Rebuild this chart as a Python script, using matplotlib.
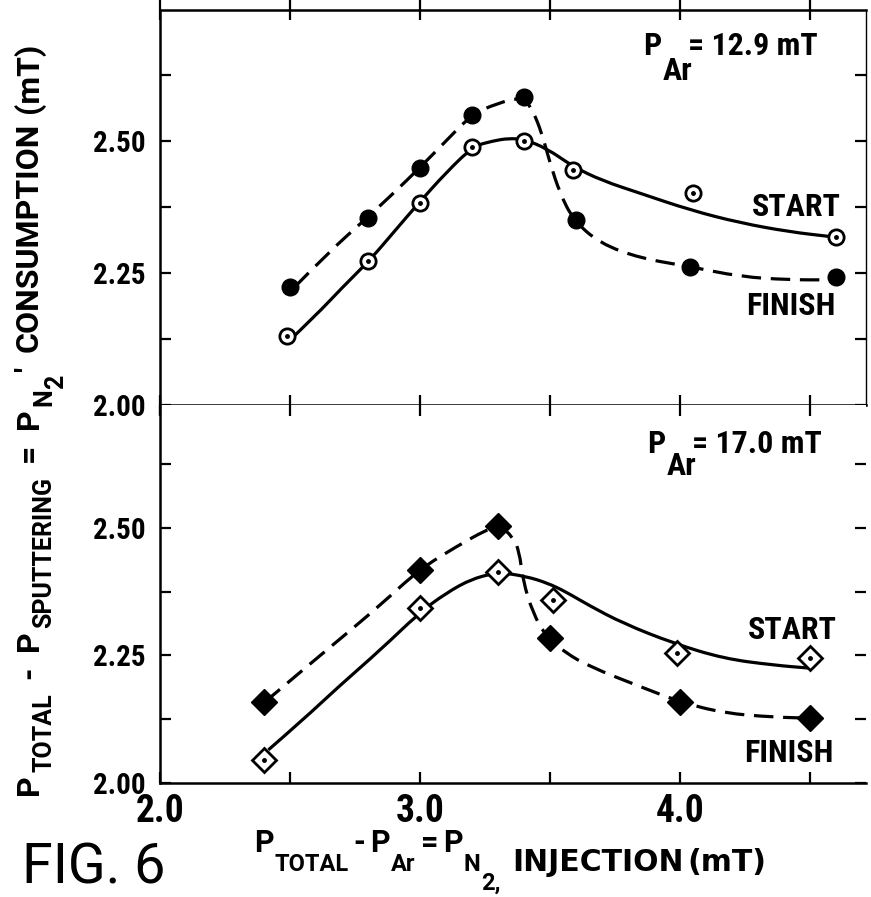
import numpy as np
import matplotlib
matplotlib.use("Agg")
import matplotlib.pyplot as plt
from matplotlib import font_manager
from matplotlib.path import Path
from matplotlib.patches import PathPatch
from matplotlib.transforms import IdentityTransform

# ---- data ----
# top panel, P_Ar = 12.9 mT
x_top_start = [2.49, 2.80, 3.00, 3.20, 3.40, 3.59, 4.05, 4.60]
y_top_start = [2.130, 2.272, 2.382, 2.489, 2.500, 2.445, 2.402, 2.319]
x_top_finish = [2.50, 2.80, 3.00, 3.20, 3.40, 3.60, 4.04, 4.60]
y_top_finish = [2.224, 2.354, 2.448, 2.550, 2.584, 2.350, 2.262, 2.243]

# hand drawn fit curves
cx_top_start = [2.487, 2.60, 2.70, 2.808, 2.90, 2.994, 3.10, 3.205, 3.28, 3.34, 3.40, 3.487,
                3.59, 3.70, 3.846, 4.04, 4.23, 4.42, 4.577]
cy_top_start = [2.117, 2.170, 2.222, 2.275, 2.328, 2.382, 2.440, 2.490, 2.500, 2.505, 2.503, 2.486,
                2.451, 2.425, 2.401, 2.369, 2.345, 2.328, 2.319]
cx_top_finish = [2.519, 2.65, 2.795, 2.90, 2.996, 3.10, 3.199, 3.295, 3.397, 3.436, 3.468, 3.50,
                 3.538, 3.59, 3.692, 3.846, 4.04, 4.23, 4.42, 4.577]
cy_top_finish = [2.224, 2.290, 2.354, 2.402, 2.448, 2.500, 2.550, 2.571, 2.584, 2.555, 2.515, 2.458,
                 2.401, 2.350, 2.306, 2.278, 2.262, 2.243, 2.237, 2.237]

# bottom panel, P_Ar = 17.0 mT
x_bot_start = [2.40, 3.00, 3.30, 3.51, 3.99, 4.50]
y_bot_start = [2.046, 2.343, 2.413, 2.359, 2.254, 2.245]
x_bot_finish = [2.40, 3.00, 3.30, 3.50, 4.00, 4.50]
y_bot_finish = [2.159, 2.418, 2.503, 2.284, 2.159, 2.127]

cx_bot_start = [2.417, 2.55, 2.687, 2.85, 2.996, 3.099, 3.202, 3.305, 3.408, 3.49, 3.56, 3.65,
                3.781, 3.974, 4.167, 4.36, 4.502]
cy_bot_start = [2.065, 2.124, 2.189, 2.262, 2.333, 2.372, 2.401, 2.413, 2.405, 2.392, 2.375, 2.348,
                2.313, 2.274, 2.244, 2.231, 2.225]
cx_bot_finish = [2.404, 2.55, 2.687, 2.85, 2.996, 3.138, 3.254, 3.305, 3.356, 3.382, 3.395, 3.434,
                 3.485, 3.56, 3.653, 3.846, 4.00, 4.167, 4.36, 4.515]
cy_bot_finish = [2.159, 2.222, 2.280, 2.350, 2.418, 2.463, 2.496, 2.505, 2.483, 2.454, 2.398, 2.333,
                 2.287, 2.255, 2.228, 2.189, 2.159, 2.137, 2.129, 2.127]

yticks = [2.0, 2.125, 2.25, 2.375, 2.5, 2.625]
ytick_labels = ["2.00", "", "2.25", "", "2.50", ""]
xticks = [2.0, 2.5, 3.0, 3.5, 4.0, 4.5]
xtick_labels = ["2.0", "", "3.0", "", "4.0", ""]

names = {f.name for f in font_manager.fontManager.ttflist}
FONT = "Roboto Condensed" if "Roboto Condensed" in names else "DejaVu Sans"
WIDE = "Roboto" if "Roboto" in names else "DejaVu Sans"
WEIGHT = "bold"

plt.rcParams["font.family"] = [FONT, "DejaVu Sans"]
plt.rcParams["lines.scale_dashes"] = False

fig = plt.figure(figsize=(8.71, 8.97), dpi=100)
W, H = 871.0, 897.0
left, right = 160 / W, 866 / W
ax1 = fig.add_axes([left, 1 - 405 / H, right - left, (405 - 10) / H])
ax2 = fig.add_axes([left, 1 - 783 / H, right - left, (783 - 405) / H])
renderer = fig.canvas.get_renderer()

DASH = (0, (14, 7))


def curve(ax, xs, ys, ls):
    # quadratic b-spline through the read points, drawn as a bezier path
    pts = list(zip(xs, ys))
    verts = [pts[0]]
    codes = [Path.MOVETO]
    for i in range(1, len(pts) - 1):
        mid = ((pts[i][0] + pts[i + 1][0]) / 2, (pts[i][1] + pts[i + 1][1]) / 2)
        verts += [pts[i], mid]
        codes += [Path.CURVE3, Path.CURVE3]
    verts.append(pts[-1])
    codes.append(Path.LINETO)
    ax.add_patch(PathPatch(Path(verts, codes), fill=False, lw=2.3, ls=ls,
                           edgecolor="black", capstyle="butt", zorder=2))


def panel(ax, ylim, cxs, cys, cxf, cyf, xs, ys, xf, yf, mk, ms_open, ms_fill):
    curve(ax, cxs, cys, "-")
    curve(ax, cxf, cyf, DASH)
    ax.plot(xs, ys, ls="none", marker=mk, ms=ms_open, mfc="white", mec="black", mew=2.0, zorder=3)
    ax.plot(xs, ys, ls="none", marker="o", ms=2.5, color="black", zorder=4)
    ax.plot(xf, yf, ls="none", marker=mk, ms=ms_fill, color="black", zorder=3)
    ax.set_xlim(2.0, 4.715)
    ax.set_ylim(*ylim)
    ax.set_yticks(yticks)
    ax.set_yticklabels(ytick_labels, fontsize=21, fontweight=WEIGHT)
    ax.set_xticks(xticks)
    for s in ax.spines.values():
        s.set_linewidth(1.8)
    ax.spines["right"].set_linewidth(1.0)
    ax.tick_params(axis="both", direction="in", length=8, width=1.6, top=True, right=True)
    ax.tick_params(axis="y", pad=10)


panel(ax1, (2.0, 2.748), cx_top_start, cy_top_start, cx_top_finish, cy_top_finish,
      x_top_start, y_top_start, x_top_finish, y_top_finish, "o", 11, 12)
panel(ax2, (2.0, 2.741), cx_bot_start, cy_bot_start, cx_bot_finish, cy_bot_finish,
      x_bot_start, y_bot_start, x_bot_finish, y_bot_finish, "D", 12, 13)

ax1.set_xticklabels([])
ax1.tick_params(axis="x", direction="inout", length=14, bottom=True)
ax2.set_xticklabels(xtick_labels, fontsize=27, fontweight=WEIGHT)
ax2.tick_params(axis="x", pad=7)
ax2.spines["right"].set_visible(False)
ax2.spines["top"].set_visible(False)


def rich(x0, y0, pieces, rot=0, family=FONT, weight=WEIGHT):
    # pieces: (text, size pt, baseline drop px, gap px before[, family]); x0, y0 in image px
    adv = 0.0
    for p in pieces:
        s, size, drop, gap = p[:4]
        fam = p[4] if len(p) > 4 else family
        adv += gap
        if rot == 0:
            px, py = x0 + adv, H - (y0 + drop)
        else:
            px, py = x0 + drop, H - (y0 - adv)
        t = fig.text(px, py, s, transform=IdentityTransform(), fontsize=size,
                     family=[fam, "DejaVu Sans"], fontweight=weight, rotation=rot,
                     rotation_mode="anchor", ha="left", va="baseline")
        bb = t.get_window_extent(renderer)
        adv += bb.width if rot == 0 else bb.height
    return adv


# panel annotations
rich(643, 55, [("P", 23, 0, 0), ("Ar", 23, 25, 1), ("= 12.9 mT", 23, 0, -4)])
rich(647, 453, [("P", 23, 0, 0), ("Ar", 23, 22, 1), ("= 17.0 mT", 23, 0, -4)])
lbl = dict(fontsize=23, fontweight=WEIGHT, color="black")
ax1.text(4.275, 2.357, "START", **lbl)
ax1.text(4.255, 2.170, "FINISH", **lbl)
ax2.text(4.26, 2.282, "START", **lbl)
ax2.text(4.245, 2.041, "FINISH", **lbl)

# axis titles
rich(38, 795, [("P", 23, 0, 0), ("TOTAL", 18, 13, 2), ("-", 23, 0, 15), ("P", 23, 0, 15),
               ("SPUTTERING", 18, 13, 2), ("=", 23, 0, 15), ("P", 23, 0, 15), ("N", 18, 13, 2),
               ("2", 18, 25, 0), ("'", 23, 0, 3), ("CONSUMPTION", 23, 0, 14), ("(mT)", 23, 0, 10)],
     rot=90, family=WIDE)
rich(254, 871, [("P", 22, -19, 0), ("TOTAL", 17, 0, 1), ("-", 22, -19, 5), ("P", 22, -19, 5),
                ("Ar", 17, 0, 1), ("=", 22, -19, 5), ("P", 22, -19, 5), ("N", 17, 0, 1),
                ("2,", 17, 19, 0), ("INJECTION", 21.5, 0, 12, "DejaVu Sans"),
                ("(mT)", 21.5, 0, 4, "DejaVu Sans")],
     family=WIDE)

fig.text(22 / W, 3 / H, "FIG. 6", family=[WIDE, "DejaVu Sans"], fontweight="normal",
         fontsize=40, ha="left", va="bottom")

fig.savefig("out.png", dpi=100)
